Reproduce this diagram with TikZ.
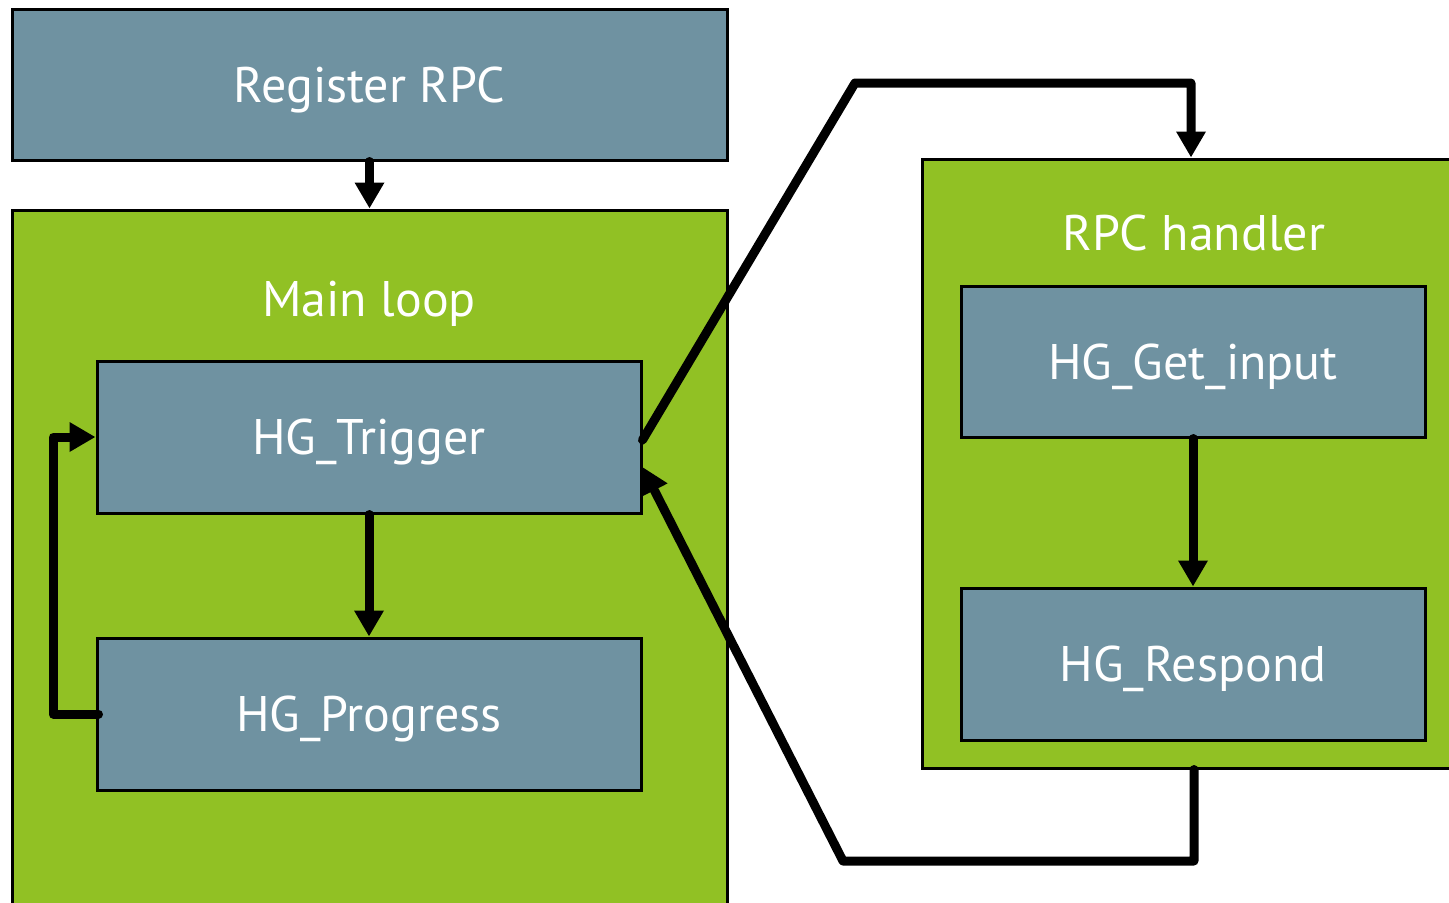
\documentclass[tikz,border=0pt]{standalone}
\usepackage{fontspec}
\setmainfont{PT Sans}
\usetikzlibrary{arrows.meta}
\definecolor{boxblue}{HTML}{6F92A1}
\definecolor{boxgreen}{HTML}{91C124}
\begin{document}
\begin{tikzpicture}[x=0.5pt,y=-0.5pt,
  blk/.style={draw=black,line width=1.5pt,fill=boxblue,inner sep=0pt,text=white,
    font=\fontsize{25}{30}\selectfont,text height=17.5pt,text depth=0pt},
  grp/.style={draw=black,line width=1.5pt,fill=boxgreen,inner sep=0pt},
  lbl/.style={text=white,font=\fontsize{25}{30}\selectfont,inner sep=0pt,
    text height=17.5pt,text depth=0pt},
  conn/.style={line width=4.5pt,line cap=round,line join=round,
    -{Triangle[width=14pt,length=13pt]}}]
\useasboundingbox (0,0) rectangle (1449,902);
\clip (0,0) rectangle (1449,902);
\node[blk,minimum width=357.5pt,minimum height=75.5pt] (reg) at (369.5,84.5) {Register RPC};
\node[grp,minimum width=357.5pt,minimum height=347.5pt] (main) at (369.5,557.5) {};
\node[lbl] (mainlbl) at (369,299) {Main loop};
\node[blk,minimum width=272pt,minimum height=76pt] (trig) at (369,437) {HG\_Trigger};
\node[blk,minimum width=272pt,minimum height=76pt] (prog) at (369,714) {HG\_Progress};
\node[grp,minimum width=265pt,minimum height=304.5pt] (rpc) at (1187,463.5) {};
\node[lbl] (rpclbl) at (1194,233) {RPC handler};
\node[blk,minimum width=232pt,minimum height=75.5pt] (get) at (1193,361.5) {HG\_Get\_input};
\node[blk,minimum width=232pt,minimum height=76pt] (resp) at (1193,664) {HG\_Respond};
\coordinate (c1) at (855,83);
\coordinate (c2) at (1191,83);
\coordinate (d1) at (1194,861);
\coordinate (d2) at (843,861);
\draw[conn] (reg.south) -- (main.north);
\draw[conn] (trig.south) -- (prog.north);
\draw[conn] (get.south -| resp.north) -- (resp.north);
\draw[conn] ([xshift=1.5pt]prog.west) -- (53,714) |- (trig.west);
\draw[conn] ([yshift=-1.5pt]trig.east) -- (c1) -- (c2) -- (rpc.north -| c2);
\draw[conn] (rpc.south -| d1) -- (d1) -- (d2) -- ([yshift=-15pt]trig.east);
\end{tikzpicture}
\end{document}
